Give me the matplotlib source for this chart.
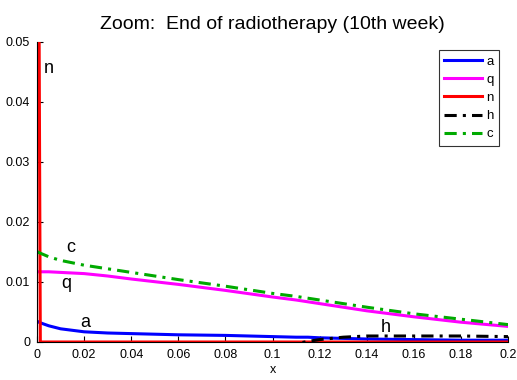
import numpy as np
import matplotlib
matplotlib.use("Agg")
import matplotlib.pyplot as plt

plt.rcParams['font.family'] = ['Liberation Sans', 'DejaVu Sans']

# Values
x = [0.0, 0.0004, 0.0008, 0.0014, 0.005, 0.01, 0.02, 0.03, 0.04, 0.06, 0.08, 0.1,
     0.11, 0.115, 0.12, 0.13, 0.14, 0.16, 0.18, 0.2]
a = [0.0034, 0.0034, 0.0033, 0.0032, 0.0027, 0.0022, 0.0017, 0.0015, 0.0014, 0.0012,
     0.0011, 0.0009, 0.0008, 0.0008, 0.0007, 0.0006, 0.0005, 0.0004, 0.0003, 0.0003]
q = [0.0117, 0.0117, 0.0117, 0.0117, 0.0117, 0.0116, 0.0114, 0.0110, 0.0105, 0.0096,
     0.0086, 0.0075, 0.0070, 0.0067, 0.0064, 0.0058, 0.0052, 0.0042, 0.0033, 0.0026]
n = [0.08, 0.07, 0.06, 0.0, 0.0, 0.0, 0.0, 0.0, 0.0, 0.0,
     0.0, 0.0, 0.0, 0.0, 0.0, 0.0, 0.0, 0.0, 0.0, 0.0]
h = [-0.001, -0.001, -0.001, -0.001, -0.001, -0.001, -0.001, -0.001, -0.001, -0.001,
     -0.001, -0.0008, -0.0003, 0.0001, 0.0004, 0.0008, 0.001, 0.001, 0.001, 0.0009]
c = [0.0150, 0.0150, 0.0149, 0.0148, 0.0142, 0.0136, 0.0128, 0.0122, 0.0116, 0.0104,
     0.0093, 0.0081, 0.0076, 0.0073, 0.0070, 0.0064, 0.0058, 0.0047, 0.0038, 0.0029]

fig = plt.figure(figsize=(5.17, 3.8), dpi=100)
ax = fig.add_axes([0.0716, 0.1, 0.911, 0.7895])

lw = 2.2
ax.plot(x, a, color='#0000ff', lw=lw, label='a')
ax.plot(x, q, color='#ff00ff', lw=lw, label='q')
ax.plot(x, n, color='#ff0000', lw=lw, label='n')
ax.plot(x, h, color='black', lw=lw, ls=(0, (4, 2, 1, 2)), label='h')
ax.plot(x, c, color='#00aa00', lw=lw, ls=(0, (4, 2, 1, 2)), label='c')

# curve labels
ax.text(0.0028, 0.0448, 'n', fontsize=13)
ax.text(0.0125, 0.0150, 'c', fontsize=13)
ax.text(0.0105, 0.0090, 'q', fontsize=13)
ax.text(0.0185, 0.0025, 'a', fontsize=13)
ax.text(0.146, 0.0017, 'h', fontsize=13)

ax.set_xlim(0, 0.2)
ax.set_ylim(0, 0.05)
ax.set_xticks(np.arange(0, 0.2001, 0.02))
ax.set_xticklabels(['0', '0.02', '0.04', '0.06', '0.08', '0.1',
                    '0.12', '0.14', '0.16', '0.18', '0.2'])
ax.set_yticks([0, 0.01, 0.02, 0.03, 0.04, 0.05])
ax.set_yticklabels(['0', '0.01', '0.02', '0.03', '0.04', '0.05'])
ax.tick_params(direction='in', length=4, labelsize=9, pad=5)
ax.spines['top'].set_visible(False)
ax.spines['right'].set_visible(False)
ax.set_xlabel('x', fontsize=9, labelpad=2)
ax.set_title('Zoom:  End of radiotherapy (10th week)', fontsize=14, pad=9)

leg = ax.legend(loc='upper right', bbox_to_anchor=(0.995, 0.995), fontsize=9.5,
                frameon=True, fancybox=False, handlelength=2.9,
                handletextpad=0.3, borderpad=0.4, labelspacing=0.45)
leg.get_frame().set_edgecolor('black')
leg.get_frame().set_linewidth(0.8)

fig.savefig('out.png', dpi=100)
